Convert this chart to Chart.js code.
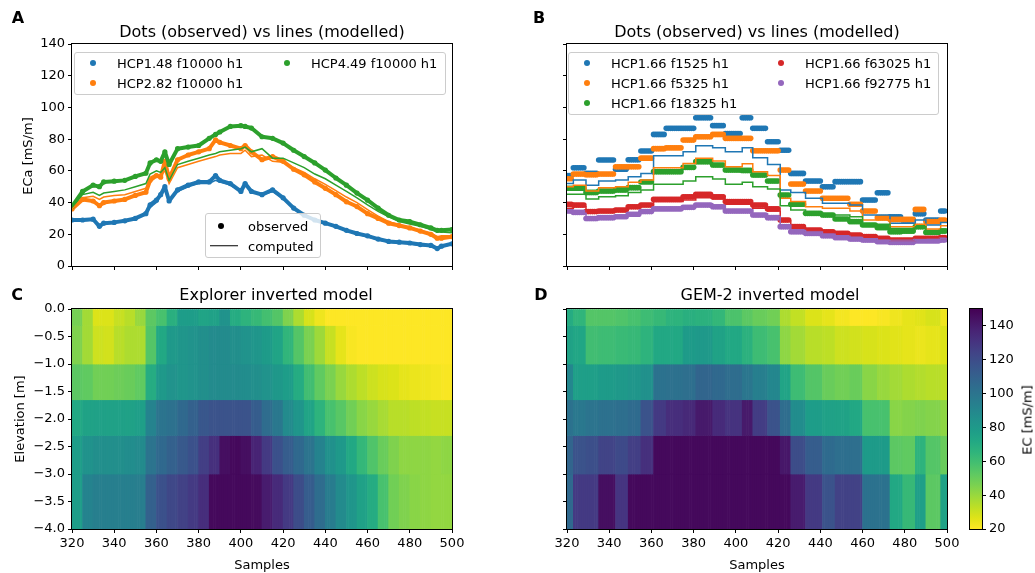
<!DOCTYPE html>
<html>
<head>
<meta charset="utf-8">
<title>EMI observed vs modelled</title>
<script src="https://cdn.jsdelivr.net/npm/chart.js@4.4.1/dist/chart.umd.min.js"></script>
<style>
  html, body { margin: 0; padding: 0; background: #fff; }
  #fig { position: relative; width: 1035px; height: 573px; overflow: hidden; font-family: 'DejaVu Sans', sans-serif; color: #000; }
  #fig canvas { position: absolute; }
  .t { position: absolute; white-space: nowrap; transform: translate(-50%, -50%); font-size: 13px; line-height: 1; z-index: 3; }
  .title { font-size: 16px; }
  .letter { font-size: 16px; font-weight: bold; }
  .rot { transform: translate(-50%, -50%) rotate(-90deg); }
  .legend { position: absolute; border: 1px solid #cccccc; border-radius: 3px; background: rgba(255,255,255,0.8); box-sizing: border-box; z-index: 2; }
  .legend .mk { position: absolute; width: 6px; height: 6px; border-radius: 50%; transform: translate(-50%, -50%); }
  .legend .ln { position: absolute; height: 1.5px; transform: translateY(-50%); background: #000; }
  .legend .lb { position: absolute; font-size: 13px; line-height: 1; transform: translateY(-50%); white-space: nowrap; }
</style>
</head>
<body>
<div id="fig">
  <canvas id="chartA" width="470" height="280" style="left:0;top:0"></canvas>
  <canvas id="chartB" width="470" height="280" style="left:500px;top:0"></canvas>
  <canvas id="chartC" width="470" height="293" style="left:0;top:280px"></canvas>
  <canvas id="chartD" width="470" height="293" style="left:500px;top:280px"></canvas>
  <canvas id="chartCb" width="85" height="293" style="left:950px;top:280px"></canvas>

  <div class="t letter" style="left:18px;top:18px">A</div>
  <div class="t letter" style="left:539px;top:18px">B</div>
  <div class="t letter" style="left:17px;top:295px">C</div>
  <div class="t letter" style="left:541px;top:295px">D</div>

  <div class="t title" style="left:262px;top:32px">Dots (observed) vs lines (modelled)</div>
  <div class="t title" style="left:757px;top:32px">Dots (observed) vs lines (modelled)</div>
  <div class="t title" style="left:276px;top:295px">Explorer inverted model</div>
  <div class="t title" style="left:770px;top:295px">GEM-2 inverted model</div>

  <div class="t rot" style="left:27px;top:156px">ECa [mS/m]</div>
  <div class="t rot" style="left:19px;top:419px">Elevation [m]</div>
  <div class="t" style="left:262px;top:564px">Samples</div>
  <div class="t" style="left:757px;top:564px">Samples</div>
  <div class="t rot" style="left:1027px;top:420px">EC [mS/m]</div>

  <div class="legend" id="legendA" style="left:74px;top:52px;width:372px;height:43px"></div>
  <div class="legend" id="legendA2" style="left:205px;top:213px;width:116px;height:45px">
    <div class="mk" style="left:15px;top:11.5px;background:#000"></div>
    <div class="lb" style="left:42px;top:11.5px">observed</div>
    <div class="ln" style="left:4px;top:31.5px;width:28px"></div>
    <div class="lb" style="left:42px;top:31.5px">computed</div>
  </div>
  <div class="legend" id="legendB" style="left:568px;top:52px;width:371px;height:63px"></div>
</div>

<script>
// ---------------- data ----------------
var X_MIN = 320, X_MAX = 500;
var EC_MIN = 20, EC_MAX = 150;

// Panel A: Explorer, observed (dots) and computed (lines) ECa [mS/m]
var aNames = ['HCP1.48 f10000 h1', 'HCP2.82 f10000 h1', 'HCP4.49 f10000 h1'];
var aSamples = [320, 325, 330, 333, 335, 340, 345, 350, 355, 357, 360, 362, 364, 366, 370,
  375, 380, 385, 388, 390, 395, 400, 402, 405, 410, 415, 420, 425, 430, 435,
  440, 445, 450, 455, 460, 465, 470, 475, 480, 485, 490, 493, 495, 500];
var aObsHcp148 = [29, 29, 29.5, 25, 27, 27.5, 28.5, 30, 33, 38.5, 41.5, 45, 50, 41, 48,
  51, 53, 53, 57, 54, 52, 47, 52, 47, 45, 48, 43, 36.5, 32, 29,
  27, 25, 22.5, 20.5, 19, 17, 15.5, 15, 14.5, 13.5, 13, 11, 12.5, 14];
var aObsHcp282 = [36, 42, 41, 38, 40, 41, 42, 44.5, 46.5, 54, 57, 56, 66, 55, 67,
  70, 72, 74, 79.5, 78, 76, 74, 76, 72, 67, 69, 66, 61, 57.5, 53,
  49, 45, 40.5, 37.5, 33, 30, 27, 25.5, 24, 22, 20, 17.5, 17.5, 18.5];
var aObsHcp449 = [37.5, 47, 51, 50, 53, 53.5, 54, 56.5, 58.5, 65, 67, 66, 72, 64, 74,
  75, 76, 80.5, 83, 84.5, 88, 88.5, 88, 87, 81.5, 80.5, 77.5, 73, 69, 65,
  60.5, 55.5, 51, 46, 41.5, 36.5, 32, 29, 28, 26, 24, 22.5, 22.5, 23];
var aCompHcp148 = [28.5, 28.5, 29, 25.5, 27, 27.5, 28.5, 30, 32.5, 37, 40, 44, 48, 41, 47,
  50, 52, 52, 54, 53, 51, 47, 51, 46.5, 45, 47, 42.5, 36, 32, 29,
  27, 24.5, 22, 20, 18.5, 16.5, 15, 14.5, 14, 13, 12.5, 11, 12, 13.5];
var aCompHcp282 = [36, 43, 44, 42, 43.5, 44.5, 45, 47, 49, 56, 58, 57, 60, 52, 62,
  64, 66, 68, 69, 70, 71, 71, 73, 69, 70, 66, 65.5, 62, 59, 55,
  51.5, 47.5, 43.5, 40, 35.5, 31.5, 28, 26, 24.5, 22.5, 20.5, 18.5, 19, 19];
var aCompHcp449 = [37, 45, 46.5, 44.5, 46, 47, 48, 50, 52, 58, 60, 59, 62, 54, 64,
  66, 68, 70, 71, 72, 73, 74, 75, 72, 74, 68, 68, 65, 62, 58,
  55, 51, 47, 43, 38.5, 34.5, 31, 28, 26.5, 25, 23, 21.5, 21.5, 21];

// GEM-2 sample columns (edges in samples), shared by panels B and D
var gemEdges = [320, 323, 329, 335, 343, 349, 355, 361, 367, 375, 381, 389, 395, 403, 408,
  415, 421, 426, 433, 441, 447, 454, 460, 467, 473, 479, 485, 490, 497, 500];

// Panel B: GEM-2, one value per column
var bNames = ['HCP1.66 f1525 h1', 'HCP1.66 f5325 h1', 'HCP1.66 f18325 h1', 'HCP1.66 f63025 h1', 'HCP1.66 f92775 h1'];
var bObsF1525 = [57, 62, 58.5, 66.8, 61, 67, 72.5, 83, 86.8, 86.8, 93.5, 88.5, 83.6, 93.5, 86.8,
  78.4, 73, 58.4, 53.6, 50, 53.2, 53.2, 41.6, 46.2, 31.1, 29, 33, 29, 34.7];
var bObsF5325 = [55, 58, 57.5, 58, 62.6, 62.6, 68, 74, 74.5, 79.4, 81.5, 83, 80.5, 80.5, 72.7,
  72.7, 60.5, 51.7, 47.3, 42.7, 42.7, 38.9, 34.7, 30.5, 29.4, 29.4, 35.7, 28, 29];
var bObsF18325 = [49, 49, 46.4, 47.3, 48, 49.4, 53, 59.5, 59.5, 62.2, 65.8, 63.7, 60.5, 60.3, 57.4,
  53.6, 44.8, 38.9, 33.2, 32.2, 29.6, 28, 25.9, 24.2, 21.6, 22, 24.8, 21.2, 22];
var bObsF63025 = [38.9, 38.5, 34.3, 34.7, 35.3, 37.4, 38.5, 42, 42, 43.7, 45.2, 43.7, 40.6, 40.6, 38.5,
  36, 29, 24.8, 22.7, 21.6, 20.6, 19.5, 18.5, 17.4, 16.4, 16.4, 17.4, 17.4, 17.9];
var bObsF92775 = [34.7, 33.8, 30, 30.5, 31.1, 32.6, 34.3, 36, 36, 37, 38.5, 37.4, 34.7, 34.7, 32.2,
  30.5, 24.8, 21.6, 20.6, 19.1, 17.9, 17, 16.4, 15.3, 14.9, 14.9, 15.8, 15.8, 16.4];
var bCompF1525 = [52, 54.2, 51, 53.6, 54.2, 56.3, 58.4, 69.6, 69.6, 72, 75.9, 74.6, 72, 74.6, 68.3,
  64, 48, 46.4, 42.7, 39.5, 39.5, 38.5, 32.2, 32.2, 27, 27, 29, 25.9, 27.5];
var bCompF5325 = [50, 51, 47.3, 49.4, 50, 52.8, 54.2, 62, 62, 64.7, 67.9, 66.2, 62.6, 64.5, 59.5,
  57, 42.7, 40.6, 37.4, 36.4, 36.4, 34.7, 29, 29, 24.8, 24.8, 26.3, 23.3, 25.4];
var bCompF18325 = [45.2, 45.2, 42.2, 43.7, 44.3, 46.4, 48, 51.5, 51.5, 53.6, 56.3, 54.9, 51.5, 52.8, 50,
  48.5, 38, 35.3, 33.8, 32.2, 32.2, 31.1, 26.3, 26.3, 23.7, 23.7, 24.8, 22, 23.3];
var bCompF63025 = [36.4, 37.4, 33.8, 34.7, 35.1, 36.8, 38.5, 40.6, 40.6, 41.6, 43, 42.2, 38.9, 38.9, 36.4,
  34.7, 28.4, 24, 22, 21, 20, 19, 18, 17, 16, 16, 17, 16.8, 17.3];
var bCompF92775 = [34, 33.3, 30.8, 31.3, 31.8, 33.2, 34.8, 36.8, 36.8, 37.8, 39.2, 38.2, 35.5, 35.5, 33,
  31.2, 25.8, 22.4, 21.4, 20, 18.8, 17.9, 17.2, 16.2, 15.8, 15.8, 16.6, 16.6, 17.2];

// Model layers (elevation edges, m)
var layerEdges = [0, -0.3, -1.0, -1.65, -2.3, -3.0, -4.0];

// Panel C: Explorer inverted EC [mS/m], 5-sample columns
var explorerEdges = [320, 325, 330, 335, 340, 345, 350, 355, 360, 365, 370, 375, 380, 385, 390, 395, 400, 405, 410,
  415, 420, 425, 430, 435, 440, 445, 450, 455, 460, 465, 470, 475, 480, 485, 490, 495, 500];
var expL1 = [47, 38, 27, 27, 31, 34, 40, 53, 58, 68, 78, 78, 74, 76, 84, 70, 66, 63, 59, 55, 45, 36, 28, 23, 20, 20, 20, 20, 20, 20, 20, 20, 20, 20, 20, 20];
var expL2 = [45, 38, 30, 29, 34, 36, 36, 55, 72, 80, 82, 84, 86, 88, 88, 86, 84, 82, 79, 74, 65, 55, 46, 39, 31, 25, 21, 20, 20, 20, 20, 20, 20, 20, 20, 20];
var expL3 = [53, 52, 48, 48, 49, 50, 52, 70, 80, 84, 82, 84, 86, 88, 88, 88, 87, 86, 84, 81, 78, 70, 60, 52, 46, 40, 36, 33, 30, 28, 27, 25, 24, 23, 22, 21];
var expL4 = [72, 75, 76, 76, 76, 76, 77, 92, 100, 102, 106, 110, 115, 117, 117, 117, 117, 112, 104, 98, 88, 82, 74, 66, 58, 54, 48, 43, 40, 37, 34, 34, 33, 32, 31, 31];
var expL5 = [78, 84, 86, 86, 86, 87, 88, 100, 106, 110, 114, 118, 126, 132, 145, 147, 145, 137, 128, 118, 112, 106, 100, 92, 85, 80, 72, 64, 56, 50, 45, 42, 42, 42, 41, 42];
var expL6 = [78, 92, 94, 94, 94, 94, 95, 110, 118, 122, 125, 128, 133, 147, 147, 147, 147, 146, 140, 134, 128, 120, 112, 104, 96, 88, 82, 76, 70, 58, 48, 45, 43, 42, 41, 41];

// Panel D: GEM-2 inverted EC [mS/m], one value per GEM-2 column
var gemL1 = [70, 65, 55, 55, 56, 58, 61, 63, 66, 68, 67, 64, 57, 53, 50, 48, 36, 32, 27, 25, 22, 20, 20, 21, 23, 25, 26, 28, 23];
var gemL2 = [75, 73, 60, 61, 62, 63, 66, 72, 72, 79, 80, 75, 72, 67, 61, 58, 42, 38, 34, 33, 30, 29, 28, 27, 26, 25, 24, 25, 27];
var gemL3 = [90, 77, 77, 79, 80, 82, 85, 101, 102, 103, 108, 106, 104, 99, 94, 90, 74, 61, 55, 50, 48, 50, 43, 40, 38, 36, 35, 34, 33];
var gemL4 = [101, 98, 100, 102, 103, 105, 117, 128, 133, 135, 141, 134, 131, 141, 127, 117, 104, 87, 78, 76, 75, 72, 58, 58, 43, 44, 45, 44, 42];
var gemL5 = [108, 117, 119, 124, 121, 126, 132, 147, 147, 147, 147, 147, 147, 147, 147, 147, 142, 120, 112, 105, 103, 103, 79, 79, 53, 52, 66, 55, 50];
var gemL6 = [106, 128, 128, 145, 130, 147, 147, 147, 147, 147, 147, 147, 147, 147, 147, 147, 147, 140, 128, 117, 125, 125, 101, 101, 72, 63, 77, 53, 75];

// ---------------- helpers ----------------
var TAB = { blue: '#1f77b4', orange: '#ff7f0e', green: '#2ca02c', red: '#d62728', purple: '#9467bd' };

var VIRIDIS = ['#440154', '#471365', '#482475', '#463480', '#414487', '#3b528b', '#355f8d',
  '#2f6c8e', '#2a788e', '#25848e', '#21918c', '#1e9c89', '#22a884', '#2fb47c', '#44bf70',
  '#5ec962', '#7ad151', '#9bd93c', '#bddf26', '#dfe318', '#fde725'];

function hexToRGB(hex) {
  if (hex.charAt(0) == '#') hex = hex.substring(1, 7);
  return [parseInt(hex.substring(0, 2), 16), parseInt(hex.substring(2, 4), 16), parseInt(hex.substring(4, 6), 16)];
}

function viridis(t) {
  t = Math.min(1, Math.max(0, t));
  var p = t * (VIRIDIS.length - 1), i = Math.min(Math.floor(p), VIRIDIS.length - 2), f = p - i;
  var a = hexToRGB(VIRIDIS[i]), b = hexToRGB(VIRIDIS[i + 1]);
  return 'rgb(' + [0, 1, 2].map(function (k) { return Math.round(a[k] + (b[k] - a[k]) * f); }).join(',') + ')';
}

// reversed viridis: low EC yellow, high EC dark purple
function ecColor(v) {
  return viridis((EC_MAX - v) / (EC_MAX - EC_MIN));
}

function xy(xs, ys) {
  return xs.map(function (x, i) { return { x: x, y: ys[i] }; });
}

function columnOf(edges, s) {
  var c = 0;
  while (c < edges.length - 2 && s >= edges[c + 1]) c++;
  return c;
}

// one dot per sample, value of the column it falls in
function columnDots(edges, vals) {
  var pts = [];
  for (var s = X_MIN; s < X_MAX; s++) pts.push({ x: s, y: vals[columnOf(edges, s)] });
  return pts;
}

// stepped line, value held over each column
function columnSteps(edges, vals) {
  var pts = vals.map(function (v, i) { return { x: edges[i], y: v }; });
  pts.push({ x: edges[edges.length - 1], y: vals[vals.length - 1] });
  return pts;
}

function heatmapDatasets(edges, layers) {
  return layers.map(function (vals, li) {
    var data = [], colors = [];
    for (var s = X_MIN; s < X_MAX; s++) {
      data.push({ x: s + 0.5, y: [layerEdges[li + 1], layerEdges[li]] });
      colors.push(ecColor(vals[columnOf(edges, s)]));
    }
    return { data: data, backgroundColor: colors, borderWidth: 0, grouped: false, barPercentage: 1, categoryPercentage: 1 };
  });
}

var framePlugin = {
  id: 'frame',
  afterDatasetsDraw: function (chart) {
    var a = chart.chartArea, ctx = chart.ctx;
    ctx.save();
    ctx.strokeStyle = '#000';
    ctx.lineWidth = 1;
    ctx.strokeRect(Math.round(a.left) - 0.5, Math.round(a.top) - 0.5, Math.round(a.right - a.left) + 1, Math.round(a.bottom - a.top) + 1);
    ctx.restore();
  }
};

var tickGrid = { display: true, drawOnChartArea: false, drawTicks: true, tickLength: 4, tickColor: '#000', lineWidth: 1, offset: false };

function sampleAxis(showLabels) {
  return {
    type: 'linear', min: X_MIN, max: X_MAX, offset: false,
    border: { display: false },
    grid: tickGrid,
    ticks: { display: showLabels, stepSize: 20, maxRotation: 0, autoSkip: false, padding: 3, color: '#000' },
    afterFit: function (scale) { scale.height = showLabels ? 44 : 14; }
  };
}

function ecaAxis(showLabels, width) {
  return {
    type: 'linear', min: 0, max: 140,
    border: { display: false },
    grid: tickGrid,
    ticks: { display: showLabels, stepSize: 20, padding: 3, color: '#000' },
    afterFit: function (scale) { scale.width = width; }
  };
}

function depthAxis(showLabels, width) {
  return {
    type: 'linear', min: -4, max: 0,
    border: { display: false },
    grid: tickGrid,
    ticks: {
      display: showLabels, stepSize: 0.5, padding: 3, color: '#000',
      callback: function (v) { return v === 0 ? '0.0' : '\u2212' + Math.abs(v).toFixed(1); }
    },
    afterFit: function (scale) { scale.width = width; }
  };
}

function panelOptions(top, right, xAxis, yAxis) {
  return {
    responsive: false, animation: false, devicePixelRatio: 1, events: [],
    layout: { padding: { left: 0, top: top, right: right, bottom: 0 } },
    plugins: { legend: { display: false }, tooltip: { enabled: false } },
    scales: { x: xAxis, y: yAxis }
  };
}

function buildLegend(id, names, colors) {
  var box = document.getElementById(id);
  var rows = Math.ceil(names.length / 2);
  names.forEach(function (name, i) {
    var col = Math.floor(i / rows), row = i % rows;
    var mk = document.createElement('div');
    mk.className = 'mk';
    mk.style.left = (18 + col * 194) + 'px';
    mk.style.top = (10 + row * 20) + 'px';
    mk.style.background = colors[i];
    var lb = document.createElement('div');
    lb.className = 'lb';
    lb.style.left = (42 + col * 194) + 'px';
    lb.style.top = (10 + row * 20) + 'px';
    lb.textContent = name;
    box.appendChild(mk);
    box.appendChild(lb);
  });
}

Chart.defaults.font.family = "'DejaVu Sans', sans-serif";
Chart.defaults.font.size = 13;
Chart.defaults.color = '#000';

// ---------------- panel A ----------------
var aColors = [TAB.blue, TAB.orange, TAB.green];
var aObs = [aObsHcp148, aObsHcp282, aObsHcp449];
var aComp = [aCompHcp148, aCompHcp282, aCompHcp449];
var aDatasets = [];
aObs.forEach(function (vals, i) {
  aDatasets.push({
    label: aNames[i], data: xy(aSamples, vals), showLine: true,
    borderColor: aColors[i], backgroundColor: aColors[i], borderWidth: 4,
    borderCapStyle: 'round', borderJoinStyle: 'round',
    pointRadius: 2.6, pointBorderWidth: 0, order: 100 - i
  });
});
aComp.forEach(function (vals, i) {
  aDatasets.push({
    label: aNames[i] + ' computed', data: xy(aSamples, vals), showLine: true,
    borderColor: aColors[i], borderWidth: 1.5, pointRadius: 0, order: 50 - i
  });
});

new Chart(document.getElementById('chartA'), {
  type: 'scatter',
  data: { datasets: aDatasets },
  options: panelOptions(44, 18, sampleAxis(false), ecaAxis(true, 72)),
  plugins: [framePlugin]
});
buildLegend('legendA', aNames, aColors);

// ---------------- panel B ----------------
var bColors = [TAB.blue, TAB.orange, TAB.green, TAB.red, TAB.purple];
var bObs = [bObsF1525, bObsF5325, bObsF18325, bObsF63025, bObsF92775];
var bComp = [bCompF1525, bCompF5325, bCompF18325, bCompF63025, bCompF92775];
var bDatasets = [];
bObs.forEach(function (vals, i) {
  bDatasets.push({
    label: bNames[i], data: columnDots(gemEdges, vals), showLine: false,
    backgroundColor: bColors[i], pointRadius: 2.8, pointBorderWidth: 0, order: 100 - i
  });
});
bComp.forEach(function (vals, i) {
  bDatasets.push({
    label: bNames[i] + ' computed', data: columnSteps(gemEdges, vals), showLine: true, stepped: true,
    borderColor: bColors[i], borderWidth: 1.5, pointRadius: 0, order: 50 - i
  });
});

new Chart(document.getElementById('chartB'), {
  type: 'scatter',
  data: { datasets: bDatasets },
  options: panelOptions(44, 23, sampleAxis(false), ecaAxis(false, 67)),
  plugins: [framePlugin]
});
buildLegend('legendB', bNames, bColors);

// ---------------- panel C ----------------
new Chart(document.getElementById('chartC'), {
  type: 'bar',
  data: { datasets: heatmapDatasets(explorerEdges, [expL1, expL2, expL3, expL4, expL5, expL6]) },
  options: panelOptions(29, 18, sampleAxis(true), depthAxis(true, 72)),
  plugins: [framePlugin]
});

// ---------------- panel D ----------------
new Chart(document.getElementById('chartD'), {
  type: 'bar',
  data: { datasets: heatmapDatasets(gemEdges, [gemL1, gemL2, gemL3, gemL4, gemL5, gemL6]) },
  options: panelOptions(29, 23, sampleAxis(true), depthAxis(false, 67)),
  plugins: [framePlugin]
});

// ---------------- colour bar ----------------
new Chart(document.getElementById('chartCb'), {
  type: 'bar',
  data: {
    labels: ['EC'],
    datasets: [{
      data: [[EC_MIN, EC_MAX]], borderWidth: 0, barPercentage: 1, categoryPercentage: 1,
      backgroundColor: function (context) {
        var area = context.chart.chartArea;
        if (!area) return null;
        var g = context.chart.ctx.createLinearGradient(0, area.bottom, 0, area.top);
        VIRIDIS.forEach(function (c, i) { g.addColorStop(1 - i / (VIRIDIS.length - 1), c); });
        return g;
      }
    }]
  },
  options: {
    responsive: false, animation: false, devicePixelRatio: 1, events: [],
    layout: { padding: { left: 20, top: 29, right: 0, bottom: 44 } },
    plugins: { legend: { display: false }, tooltip: { enabled: false } },
    scales: {
      x: { display: false },
      y: {
        position: 'right', min: EC_MIN, max: EC_MAX,
        border: { display: false },
        grid: tickGrid,
        ticks: { stepSize: 20, includeBounds: false, padding: 3, color: '#000' },
        afterFit: function (scale) { scale.width = 53; }
      }
    }
  },
  plugins: [framePlugin]
});
</script>
</body>
</html>
